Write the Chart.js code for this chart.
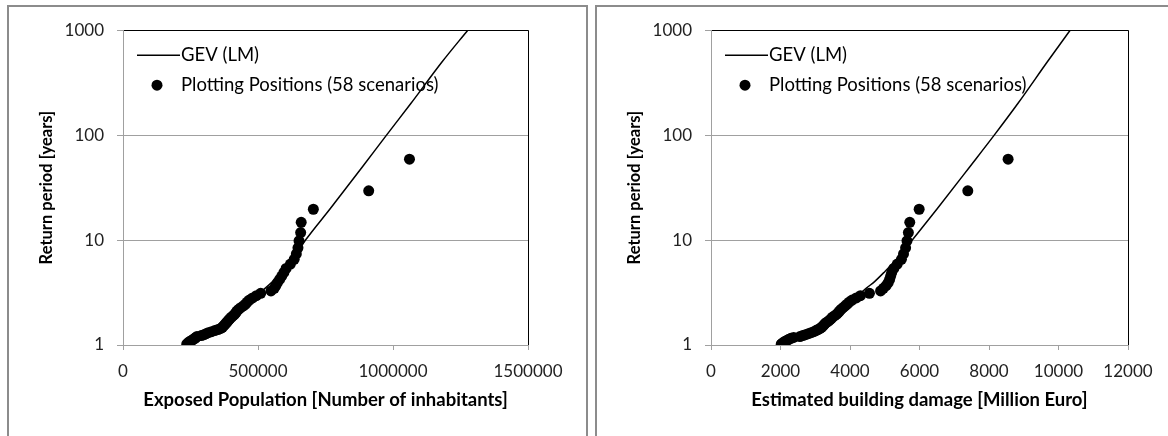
<!DOCTYPE html>
<html>
<head>
<meta charset="utf-8">
<script src="https://cdn.jsdelivr.net/npm/chart.js@4.4.1/dist/chart.umd.min.js"></script>
<style>
    html, body { margin: 0; padding: 0; background: #fff; }
    body { width: 1168px; height: 436px; position: relative; overflow: hidden; }
    .panel { position: absolute; top: 5px; height: 470px; border: 2px solid #8c8c8c; box-sizing: border-box; }
    #leftPanel { left: 7px; width: 581px; }
    #rightPanel { left: 595px; width: 600px; }
    canvas { position: absolute; left: 0; top: 0; }
</style>
</head>
<body>
<div class="panel" id="leftPanel"><canvas id="popChart" width="575" height="429"></canvas></div>
<div class="panel" id="rightPanel"><canvas id="damageChart" width="571" height="429"></canvas></div>

<script>
// Plotting positions of the 58 scenarios (return period in years)
const returnPeriods = [
    1.017, 1.035, 1.054, 1.073, 1.093, 1.113, 1.135, 1.157, 1.18, 1.204,
    1.229, 1.255, 1.283, 1.311, 1.341, 1.372, 1.405, 1.439, 1.475, 1.513,
    1.553, 1.595, 1.639, 1.686, 1.735, 1.788, 1.844, 1.903, 1.967, 2.034,
    2.107, 2.185, 2.269, 2.36, 2.458, 2.565, 2.682, 2.81, 2.95, 3.105,
    3.278, 3.471, 3.688, 3.933, 4.214, 4.538, 4.917, 5.364, 5.9, 6.556,
    7.375, 8.429, 9.833, 11.8, 14.75, 19.667, 29.5, 59
];

// Exposed population per scenario [inhabitants]
const exposedPopulation = [
    236000, 240000, 242000, 246000, 252000, 256000, 262000, 266000, 270000, 274000,
    290000, 300000, 308000, 316000, 328000, 340000, 352000, 362000, 368000, 372000,
    376000, 380000, 384000, 388000, 392000, 396000, 402000, 408000, 414000, 418000,
    422000, 428000, 436000, 446000, 454000, 460000, 468000, 480000, 494000, 510000,
    548000, 560000, 566000, 572000, 580000, 588000, 596000, 604000, 620000, 634000,
    642000, 648000, 652000, 658000, 660000, 705000, 910000, 1061000
];

// Estimated building damage per scenario [Million Euro]
const buildingDamage = [
    2020, 2050, 2080, 2110, 2160, 2200, 2250, 2300, 2380, 2560,
    2640, 2720, 2800, 2880, 2960, 3020, 3080, 3140, 3180, 3220,
    3250, 3280, 3320, 3380, 3420, 3460, 3500, 3560, 3620, 3660,
    3700, 3740, 3800, 3860, 3920, 3980, 4060, 4180, 4300, 4560,
    4880, 4960, 5040, 5100, 5140, 5170, 5200, 5260, 5360, 5480,
    5540, 5600, 5640, 5680, 5720, 5990, 7390, 8550
];

// GEV (LM) fitted curves
const gevReturnPeriods = [1.05, 1.2, 1.5, 2, 3, 3.5, 4, 5, 7, 10, 20, 50, 100, 200, 500, 1000];
const gevPopulation = [245000, 285000, 366000, 415000, 495000, 528000, 553000, 590000, 635000, 676000, 768000, 887000, 976000, 1066000, 1182000, 1277000];
const gevDamage = [2150, 2500, 3180, 3650, 4250, 4480, 4700, 5000, 5420, 5792, 6515, 7449, 8151, 8830, 9680, 10335];

const yTicks = [1, 10, 100, 1000];

const FONT = "Lato, 'Open Sans', sans-serif";
const AXIS_GREY = "#a0a0a0";

// legend drawn inside the plot area, top left
const insideLegend = {
    id: "insideLegend",
    afterDraw(chart) {
        const { ctx, chartArea } = chart;
        const ds = chart.data.datasets;
        const x0 = chartArea.left + 14;
        ctx.save();
        ctx.font = "18.5px " + FONT;
        ctx.fillStyle = "#000";
        ctx.textBaseline = "middle";
        let y = chartArea.top + 25;
        ctx.strokeStyle = ds[0].borderColor;
        ctx.lineWidth = 1.5;
        ctx.beginPath();
        ctx.moveTo(x0, y);
        ctx.lineTo(x0 + 43, y);
        ctx.stroke();
        ctx.fillText(ds[0].label, x0 + 44, y);
        y = chartArea.top + 55;
        ctx.beginPath();
        ctx.arc(x0 + 20, y, 5.5, 0, Math.PI * 2);
        ctx.fill();
        ctx.fillText(ds[1].label, x0 + 44, y);
        ctx.restore();
    }
};

function toPoints(xs, ys) {
    return xs.map((x, i) => ({ x: x, y: ys[i] }));
}

function makeChart(canvasId, xValues, gevValues, xMax, xStep, xTitle, rightPad) {
    const ctx = document.getElementById(canvasId).getContext("2d");
    return new Chart(ctx, {
        type: "scatter",
        data: {
            datasets: [
                {
                    label: "GEV (LM)",
                    data: toPoints(gevValues, gevReturnPeriods),
                    showLine: true,
                    borderColor: "#000",
                    borderWidth: 1.5,
                    pointRadius: 0,
                    cubicInterpolationMode: "monotone",
                },
                {
                    label: "Plotting Positions (58 scenarios)",
                    data: toPoints(xValues, returnPeriods),
                    backgroundColor: "#000",
                    borderWidth: 0,
                    pointRadius: 5.5,
                },
            ],
        },
        options: {
            responsive: false,
            animation: false,
            layout: { padding: { top: 20, right: rightPad, left: 0, bottom: 0 } },
            plugins: {
                legend: { display: false },
                tooltip: { enabled: false },
            },
            scales: {
                x: {
                    type: "linear",
                    min: 0,
                    max: xMax,
                    afterFit: (s) => { s.height = 91; },
                    ticks: {
                        stepSize: xStep,
                        padding: 11,
                        maxRotation: 0,
                        autoSkip: false,
                        color: "#222",
                        font: { family: FONT, size: 17 },
                        callback: (v) => String(v),
                    },
                    grid: {
                        color: (c) => (c.tick && c.tick.value === xMax ? "#000" : "rgba(0,0,0,0)"),
                        tickColor: AXIS_GREY,
                        tickLength: 5,
                    },
                    border: { color: AXIS_GREY },
                    title: {
                        display: true,
                        text: xTitle,
                        color: "#000",
                        font: { family: FONT, size: 18.5, weight: "bold" },
                        padding: { bottom: 25 },
                    },
                },
                y: {
                    type: "logarithmic",
                    min: 1,
                    max: 1000,
                    afterBuildTicks: (s) => { s.ticks = yTicks.map((v) => ({ value: v })); },
                    afterFit: (s) => { s.width = 114; },
                    ticks: {
                        padding: 13,
                        color: "#222",
                        font: { family: FONT, size: 17 },
                        callback: (v) => String(v),
                    },
                    grid: {
                        color: (c) => (c.tick && c.tick.value === 1000 ? "#000" : AXIS_GREY),
                        tickColor: AXIS_GREY,
                        tickLength: 6,
                    },
                    border: { color: AXIS_GREY },
                    title: {
                        display: true,
                        text: "Return period [years]",
                        color: "#000",
                        font: { family: FONT, size: 16.5, weight: "bold" },
                        padding: { top: 28 },
                    },
                },
            },
        },
        plugins: [insideLegend],
    });
}

makeChart("popChart", exposedPopulation, gevPopulation, 1500000, 500000,
    "Exposed Population [Number of inhabitants]", 56);
makeChart("damageChart", buildingDamage, gevDamage, 12000, 2000,
    "Estimated building damage [Million Euro]", 40);
</script>
</body>
</html>
